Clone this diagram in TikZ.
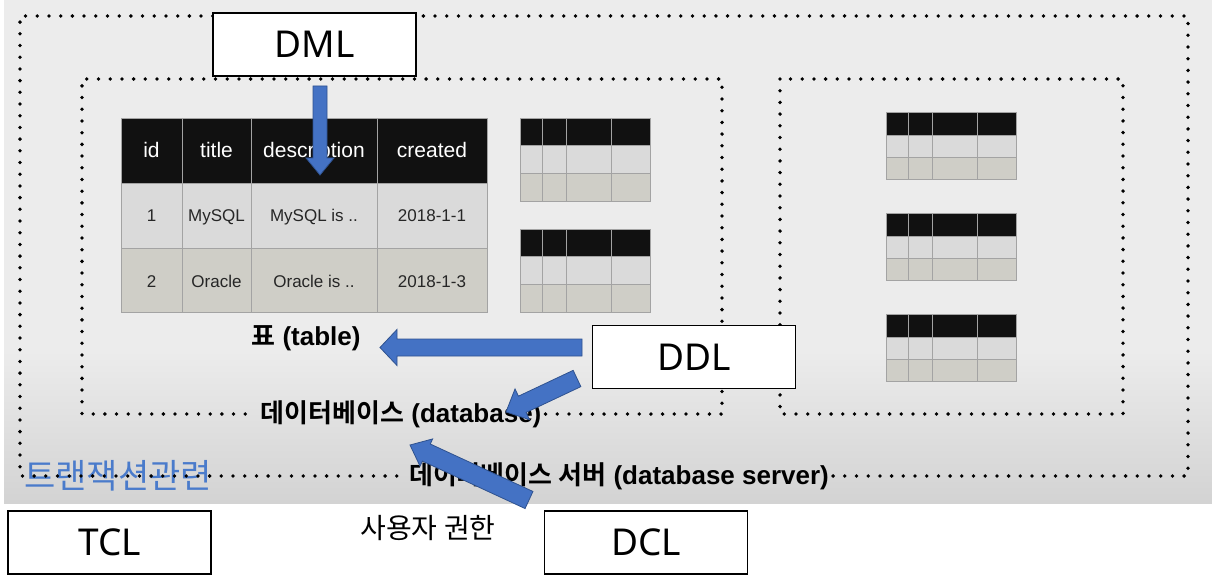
\documentclass[tikz,border=0pt]{standalone}
\usepackage{fontspec}
\setmainfont{Liberation Sans}
\newfontfamily\krfont{Noto Sans CJK KR}[BoldFont={Noto Sans CJK KR Bold}]
\newfontfamily\boxfont{Noto Sans}
\usetikzlibrary{calc}

\definecolor{bgtop}{HTML}{ECECEC}
\definecolor{bgbot}{HTML}{D3D3D3}
\definecolor{hdr}{HTML}{111111}
\definecolor{rowa}{HTML}{DADADA}
\definecolor{rowb}{HTML}{CFCEC7}
\definecolor{gridc}{HTML}{A3A3A3}
\definecolor{arrfill}{HTML}{4472C4}
\definecolor{arrline}{HTML}{2F528F}
\definecolor{tclblue}{HTML}{4A7BCB}

% small table: x, y, header height, row height
\newcommand\minitable[4]{%
  \begin{scope}[shift={(#1,#2)}]
    \fill[hdr](0,0)rectangle(130,#3);
    \fill[rowa](0,#3)rectangle(130,#3+#4);
    \fill[rowb](0,#3+#4)rectangle(130,#3+2*#4);
    \foreach \x in {22,46,91}\draw[gridc](\x,0)--(\x,#3+2*#4);
    \draw[gridc](0,#3)--(130,#3);\draw[gridc](0,#3+#4)--(130,#3+#4);
    \draw[gridc](0,0)rectangle(130,#3+2*#4);
  \end{scope}}

% block arrow: from, to, shaft half width, head half width, head length
\newcommand\fatarrow[5]{%
  \coordinate(fa)at($(#2)!#5!(#1)$);
  \draw[bluearrow]($(#1)!#3!90:(#2)$)--($(fa)!#3!90:(#2)$)--($(fa)!#4!90:(#2)$)--(#2)
    --($(fa)!#4!-90:(#2)$)--($(fa)!#3!-90:(#2)$)--($(#1)!#3!-90:(#2)$)--cycle;}

\begin{document}
\begin{tikzpicture}[x=1pt,y=-1pt,
  dotline/.style={line width=3.8pt,dash pattern=on 0pt off 11.7pt,line cap=round},
  cmdbox/.style={draw,line width=1.6pt,fill=white,minimum width=203pt,minimum height=63pt,inner sep=0pt,font=\boxfont\fontsize{37}{40}\selectfont},
  headtext/.style={anchor=base,text=white,font=\fontsize{21}{24}\selectfont},
  celltext/.style={anchor=base,text=black!85,font=\fontsize{17}{20}\selectfont},
  boldlabel/.style={font=\bfseries\fontsize{26}{30}\selectfont,inner sep=4pt},
  bluearrow/.style={fill=arrfill,draw=arrline,line width=.8pt,line join=miter}]
\useasboundingbox(0,0)rectangle(1212,588);
\fill[white](0,0)rectangle(1212,588);
\fill[bgtop](4,0)rectangle(1212,350);
\shade[top color=bgtop,bottom color=bgbot](4,350)rectangle(1212,503);

% labels
\node[boldlabel](tbl)at(306,338){{\krfont 표} (table)};
\node[boldlabel](db)at(401,414){{\krfont 데이터베이스} (database)};
\node[boldlabel](srv)at(619,476){{\krfont 데이터베이스 서버} (database server)};
\node[text=tclblue,font=\krfont\fontsize{34}{38}\selectfont](trx)at(118,476){트랜잭션관련};
\node[font=\krfont\fontsize{28}{32}\selectfont](perm)at(428,528){사용자 권한};

% dotted frames
\draw[dotline](srv.east)--(1188,476)--(1188,16)--(20,16)--(20,476)--(srv.west);
\draw[dotline](db.east)--(722,414)--(722,79)--(82,79)--(82,414)--(db.west);
\draw[dotline](780,79)rectangle(1123,414);

% main table
\fill[hdr](121,118)rectangle(487,183);
\fill[rowa](121,183)rectangle(487,248);
\fill[rowb](121,248)rectangle(487,312);
\foreach \x in {182,251,377}\draw[gridc](\x,118)--(\x,312);
\foreach \y in {183,248}\draw[gridc](121,\y)--(487,\y);
\draw[gridc](121,118)rectangle(487,312);
\foreach \n/\x/\t in {id/151.5/id,title/216.5/title,desc/314/description,created/432/created}
  \node[headtext](h-\n)at(\x,158){\t};
\foreach \n/\x/\t in {id/151.5/1,title/216.5/MySQL,desc/314/MySQL is ..,created/432/2018-1-1}
  \node[celltext](a-\n)at(\x,222){\t};
\foreach \n/\x/\t in {id/151.5/2,title/216.5/Oracle,desc/314/Oracle is ..,created/432/2018-1-3}
  \node[celltext](b-\n)at(\x,287){\t};

% other tables
\minitable{520}{118}{27}{28}
\minitable{520}{229}{27}{28}
\foreach \y in {112,213,314}{\minitable{886}{\y}{23}{22}}

% command boxes
\node[cmdbox](dml)at(314.5,44.5){DML};
\node[cmdbox](ddl)at(694,357){DDL};
\node[cmdbox](tcl)at(109.5,542.5){TCL};
\node[cmdbox](dcl)at(646,542.5){DCL};

% arrows
\coordinate(dmlA)at(320,86);\coordinate(dmlB)at(320,175);
\coordinate(ddlA)at(582,347.5);\coordinate(ddlB)at(380,347.5);
\coordinate(ddlC)at(577,378.5);\coordinate(ddlD)at(506,412);
\coordinate(dclA)at(529,500);\coordinate(dclB)at(410,445);
\fatarrow{dmlA}{dmlB}{7pt}{14pt}{17pt}
\fatarrow{ddlA}{ddlB}{8.5pt}{18pt}{17pt}
\fatarrow{ddlC}{ddlD}{9pt}{17pt}{18pt}
\fatarrow{dclA}{dclB}{9.4pt}{15pt}{18pt}
\end{tikzpicture}
\end{document}
